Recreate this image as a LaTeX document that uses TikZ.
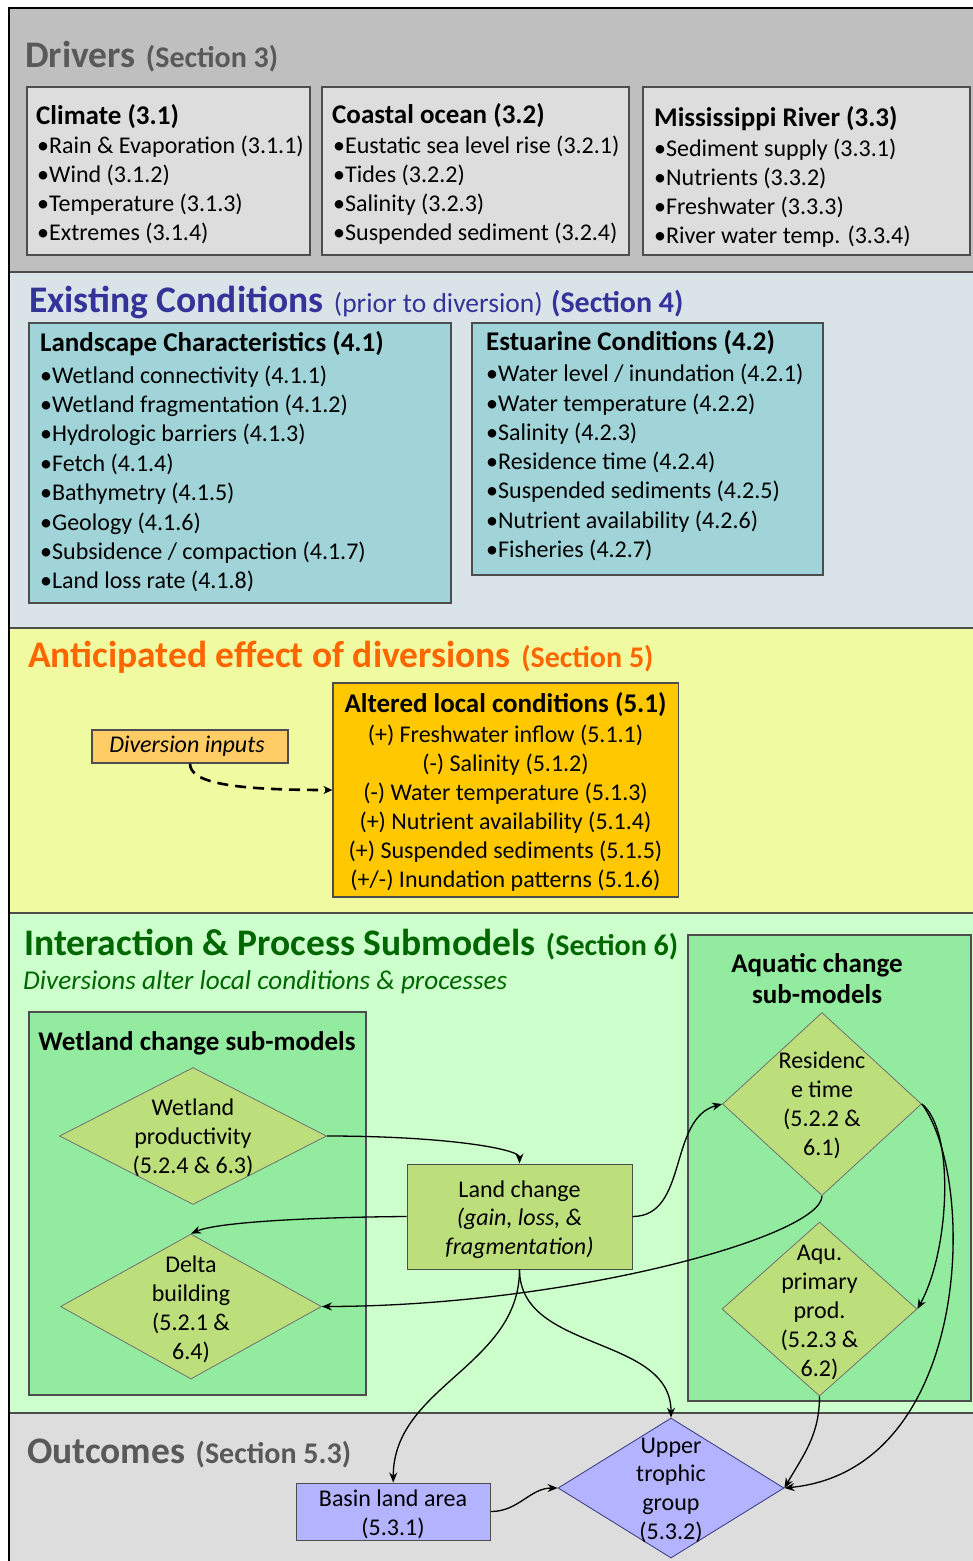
\documentclass[tikz,border=0pt]{standalone}
\usepackage{fontspec}
\setmainfont{Carlito}
\usetikzlibrary{shapes.geometric,arrows.meta}
\definecolor{bandDrv}{HTML}{BFBFBF}
\definecolor{bandEx}{HTML}{D9E3E8}
\definecolor{bandAn}{HTML}{F0FAA0}
\definecolor{bandIn}{HTML}{CCFFCC}
\definecolor{bandOut}{HTML}{DDDDDD}
\definecolor{boxDrv}{HTML}{DDDDDD}
\definecolor{boxEx}{HTML}{A0D4D8}
\definecolor{boxDi}{HTML}{FFCC66}
\definecolor{boxAlt}{HTML}{FFC800}
\definecolor{boxSub}{HTML}{93EBA0}
\definecolor{boxDia}{HTML}{BCDF7C}
\definecolor{boxOut}{HTML}{B3B3FF}
\definecolor{ttlGray}{HTML}{595959}
\definecolor{ttlBlue}{HTML}{333399}
\definecolor{ttlOrange}{HTML}{FF6600}
\definecolor{ttlGreen}{HTML}{006600}
\definecolor{edgeC}{HTML}{4D4D4D}
\newcommand\ttlfont{\fontsize{37.5}{44}\selectfont\bfseries}
\newcommand\secfnt{\fontsize{30}{36}\selectfont\bfseries}
\newcommand\prfnt{\fontsize{27.5}{33}\selectfont\mdseries}
\newcommand\hdrfont{\fontsize{27}{32}\selectfont\bfseries}
\newcommand\itmfont{\fontsize{24}{29}\selectfont}
\newcommand\leftlist[5]{\foreach \itx [count=\i] in {#5} {\node[itm] (#1\i) at (#2,{-(#3)-(#4)*(\i-1)}) {•\itx};}}
\newcommand\centlist[5]{\foreach \itx [count=\i] in {#5} {\node[itc] (#1\i) at (#2,{-(#3)-(#4)*(\i-1)}) {\itx};}}
\begin{document}
\begin{tikzpicture}[x=1pt,y=1pt,
  box/.style={rectangle, draw=edgeC, line width=1.2pt, inner sep=0},
  dia/.style={diamond, draw=edgeC!80, line width=0.8pt, fill=boxDia, inner sep=0},
  itm/.style={anchor=base west, inner sep=0, font=\itmfont},
  itc/.style={anchor=base, inner sep=0, font=\itmfont},
  hdr/.style={anchor=base west, inner sep=0, font=\hdrfont},
  hdc/.style={anchor=base, inner sep=0, font=\hdrfont},
  ttl/.style={anchor=base west, inner sep=0, font=\ttlfont},
  conn/.style={draw=black, line width=1.3pt, -{Stealth[length=10pt,width=8pt]}},
  dconn/.style={draw=black, line width=2.6pt, dash pattern=on 11pt off 7pt, -{Stealth[length=9pt,width=8pt]}}]
\useasboundingbox (0,0) rectangle (972,-1561);
% bands
\fill[bandDrv] (9,-8) rectangle (980,-272);
\fill[bandEx] (9,-272) rectangle (980,-628);
\fill[bandAn] (9,-628) rectangle (980,-913);
\fill[bandIn] (9,-913) rectangle (980,-1413);
\fill[bandOut] (9,-1413) rectangle (980,-1570);
\draw[edgeC, line width=1.5pt] (9,-272) -- (980,-272) (9,-628) -- (980,-628) (9,-913) -- (980,-913) (9,-1413) -- (980,-1413);
\draw[black, line width=2pt] (9,-1570) -- (9,-8) -- (980,-8);
% titles
\node[ttl, text=ttlGray] (tDrv) at (25,-67) {Drivers\hspace{2pt} {\secfnt (Section 3)}};
\node[ttl, text=ttlBlue] (tEx) at (29,-312) {Existing Conditions\hspace{2pt} {\prfnt (prior to diversion)} {\secfnt (Section 4)}};
\node[ttl, text=ttlOrange] (tAn) at (28,-667) {Anticipated effect of diversions\hspace{2pt} {\secfnt (Section 5)}};
\node[ttl, text=ttlGreen] (tIn) at (24,-955) {Interaction \& Process Submodels\hspace{2pt} {\secfnt (Section 6)}};
\node[anchor=base west, inner sep=0, text=ttlGreen, font=\fontsize{27.2}{32}\selectfont\itshape] (tInSub) at (23,-989) {Diversions alter local conditions \& processes};
\node[ttl, text=ttlGray] (tOut) at (27,-1463) {Outcomes\hspace{2pt} {\secfnt (Section 5.3)}};
% drivers
\node[box, fill=boxDrv, minimum width=283, minimum height=168] (climate) at (168.5,-171) {};
\node[box, fill=boxDrv, minimum width=307, minimum height=168] (coast) at (475.5,-171) {};
\node[box, fill=boxDrv, minimum width=327, minimum height=168] (miss) at (806.5,-171) {};
\node[hdr] (climateh) at (36,-124) {Climate (3.1)};
\leftlist{cl}{37}{153.5}{29}{Rain \& Evaporation (3.1.1), Wind (3.1.2), Temperature (3.1.3), Extremes (3.1.4)}
\node[hdr] (coasth) at (332,-123) {Coastal ocean (3.2)};
\leftlist{co}{333}{153.5}{29}{Eustatic sea level rise (3.2.1), Tides (3.2.2), Salinity (3.2.3), Suspended sediment (3.2.4)}
\node[hdr] (missh) at (654,-126) {Mississippi River (3.3)};
\leftlist{mi}{654}{156.5}{29}{Sediment supply (3.3.1), Nutrients (3.3.2), Freshwater (3.3.3), River water temp. (3.3.4)}
% existing
\node[box, fill=boxEx, minimum width=422, minimum height=280] (land) at (240,-463) {};
\node[box, fill=boxEx, minimum width=351, minimum height=252] (estu) at (647.5,-449) {};
\node[hdr] (landh) at (40,-351.5) {Landscape Characteristics (4.1)};
\leftlist{la}{40}{383}{29.4}{Wetland connectivity (4.1.1), Wetland fragmentation (4.1.2), Hydrologic barriers (4.1.3), Fetch (4.1.4), Bathymetry (4.1.5), Geology (4.1.6), Subsidence / compaction (4.1.7), Land loss rate (4.1.8)}
\node[hdr] (estuh) at (486,-350) {Estuarine Conditions (4.2)};
\leftlist{es}{486}{381.7}{29.3}{Water level / inundation (4.2.1), Water temperature (4.2.2), Salinity (4.2.3), Residence time (4.2.4), Suspended sediments (4.2.5), Nutrient availability (4.2.6), Fisheries (4.2.7)}
% anticipated
\node[box, fill=boxDi, minimum width=196, minimum height=33] (di) at (190,-746.5) {};
\node[itc, font=\itmfont\itshape] (dit) at (187,-752) {Diversion inputs};
\node[box, fill=boxAlt, minimum width=345.5, minimum height=214] (alt) at (505.75,-790) {};
\node[hdc] (alth) at (505.5,-712) {Altered local conditions (5.1)};
\centlist{al}{505.5}{742}{29}{{(+) Freshwater inflow (5.1.1)}, {(-) Salinity (5.1.2)}, {(-) Water temperature (5.1.3)}, {(+) Nutrient availability (5.1.4)}, {(+) Suspended sediments (5.1.5)}, {(+/-) Inundation patterns (5.1.6)}}
% interaction
\node[box, fill=boxSub, minimum width=337, minimum height=383] (wet) at (197.5,-1203.5) {};
\node[hdc] (weth) at (197,-1050) {Wetland change sub-models};
\node[box, fill=boxSub, minimum width=283, minimum height=466] (aqu) at (829.5,-1168) {};
\node[hdc] (aquh1) at (817,-972) {Aquatic change};
\node[hdc] (aquh2) at (817,-1003) {sub-models};
\node[dia, minimum width=267, minimum height=137] (wp) at (193,-1136) {};
\centlist{wpt}{193}{1115}{29}{{Wetland}, {productivity}, {(5.2.4 \& 6.3)}}
\node[dia, minimum width=261, minimum height=145] (db) at (191,-1306.5) {};
\centlist{dbt}{191}{1272}{29}{{Delta}, {building}, {(5.2.1 \&}, {6.4)}}
\node[box, fill=boxDia, line width=1pt, minimum width=225, minimum height=105] (lc) at (519.5,-1216.5) {};
\centlist{lct}{519.5}{1197}{28.7}{{Land change}, {\itshape (gain, loss, \&}, {\itshape fragmentation)}}
\node[dia, minimum width=199, minimum height=183] (rt) at (822,-1104) {};
\centlist{rtt}{822}{1068}{29}{{Residenc}, {e time}, {(5.2.2 \&}, {6.1)}}
\node[dia, minimum width=195, minimum height=174] (ap) at (819.5,-1309) {};
\centlist{apt}{819.5}{1260}{29}{{Aqu.}, {primary}, {prod.}, {(5.2.3 \&}, {6.2)}}
% outcomes
\node[box, fill=boxOut, line width=1pt, minimum width=194.5, minimum height=57] (basin) at (393.25,-1511.5) {};
\centlist{bat}{393}{1506}{29}{{Basin land area}, {(5.3.1)}}
\node[dia, fill=boxOut, draw=edgeC!70!blue, minimum width=226, minimum height=140] (ut) at (671,-1488) {};
\centlist{utt}{671}{1453}{28.8}{{Upper}, {trophic}, {group}, {(5.3.2)}}
% connectors
\draw[dconn] (di.south) .. controls (190,-783) and (233,-790) .. (alt.west);
\draw[conn] (wp.east) .. controls (446,-1136) and (519.5,-1149) .. (lc.north);
\draw[conn] (lc.west) .. controls (330,-1217) and (220,-1221) .. (db.north);
\draw[conn] (lc.east) to[out=0,in=195] (rt.west);
\draw[conn] (rt.south) .. controls (822,-1236) and (570,-1306) .. (db.east);
\draw[conn] (rt.east) .. controls (955,-1130) and (950,-1250) .. (ap.east);
\draw[conn] (rt.east) .. controls (978,-1180) and (972,-1470) .. (ut.east);
\draw[conn] (ap.south) to[out=-90,in=60] (ut.east);
\draw[conn] (lc.south) to[out=-90,in=90] (basin.north);
\draw[conn] (lc.south) to[out=-90,in=90] (ut.north);
\draw[conn] (basin.east) to[out=0,in=180] (ut.west);
\end{tikzpicture}
\end{document}
